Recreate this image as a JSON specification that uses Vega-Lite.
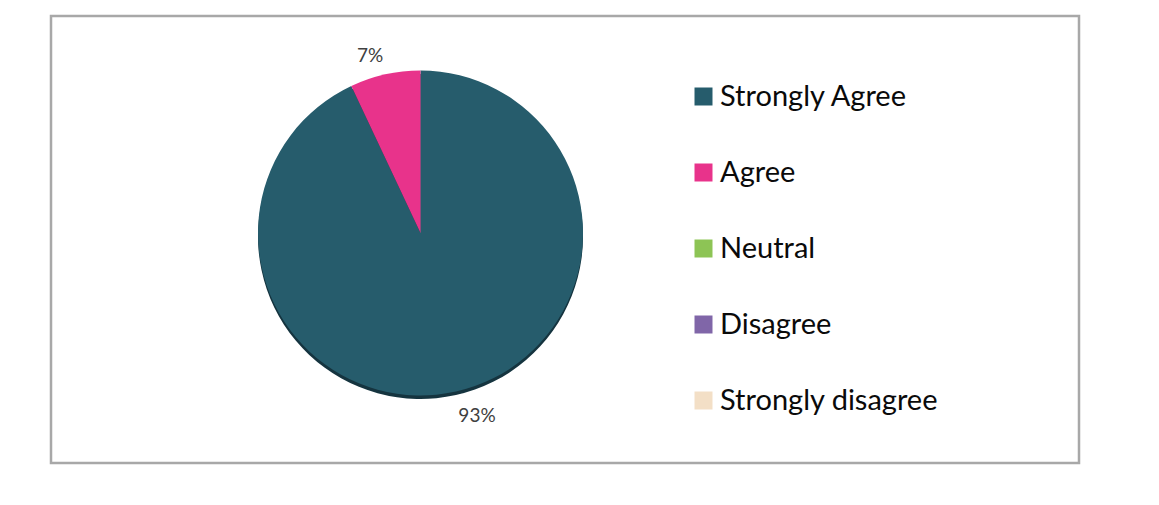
{
  "$schema": "https://vega.github.io/schema/vega-lite/v6.json",
  "autosize": "none",
  "width": 1028,
  "height": 447,
  "padding": {"left": 51, "top": 16, "right": 80, "bottom": 42},
  "background": "white",
  "view": {"stroke": "#a8a8a8", "strokeWidth": 2.5},
  "config": {"view": {"stroke": "#a8a8a8", "strokeWidth": 2.5}},
  "data": {
    "values": [
      {"response": "Strongly Agree", "pct": 0.93, "rank": 1},
      {"response": "Agree", "pct": 0.07, "rank": 2},
      {"response": "Neutral", "pct": 0, "rank": 3},
      {"response": "Disagree", "pct": 0, "rank": 4},
      {"response": "Strongly disagree", "pct": 0, "rank": 5}
    ]
  },
  "encoding": {
    "theta": {"field": "pct", "type": "quantitative", "stack": true},
    "order": {"field": "rank", "type": "quantitative"}
  },
  "layer": [
    {
      "mark": {"type": "arc", "outerRadius": 162.5, "xOffset": -144.5, "yOffset": -3, "fill": "#15343f", "tooltip": null}
    },
    {
      "mark": {"type": "arc", "outerRadius": 162.5, "xOffset": -144.5, "yOffset": -6.5, "tooltip": null},
      "encoding": {
        "color": {
          "field": "response",
          "type": "nominal",
          "scale": {
            "domain": ["Strongly Agree", "Agree", "Neutral", "Disagree", "Strongly disagree"],
            "range": ["#265c6c", "#e8338b", "#8dc455", "#8066a8", "#f3dfc6"]
          },
          "legend": {
            "orient": "none",
            "legendX": 638,
            "legendY": 66,
            "title": null,
            "symbolType": "square",
            "symbolSize": 324,
            "symbolStrokeWidth": 0,
            "symbolOpacity": 1,
            "labelFont": "Lato",
            "labelFontSize": 29,
            "labelColor": "#0a0a0a",
            "labelOffset": 2,
            "labelLimit": 400,
            "rowPadding": 46,
            "padding": 0
          }
        }
      }
    },
    {
      "mark": {"type": "text", "radius": 178, "xOffset": -156, "yOffset": -9.8, "fontSize": 19, "font": "Lato", "fill": "#404040", "align": "center", "baseline": "middle"},
      "encoding": {
        "text": {"condition": {"test": "datum.response === 'Agree'", "field": "pct", "type": "quantitative", "format": ".0%"}, "value": ""}
      }
    },
    {
      "mark": {"type": "text", "radius": 188, "xOffset": -129, "yOffset": -6.5, "fontSize": 19, "font": "Lato", "fill": "#404040", "align": "center", "baseline": "middle"},
      "encoding": {
        "text": {"condition": {"test": "datum.response === 'Strongly Agree'", "field": "pct", "type": "quantitative", "format": ".0%"}, "value": ""}
      }
    }
  ]
}
